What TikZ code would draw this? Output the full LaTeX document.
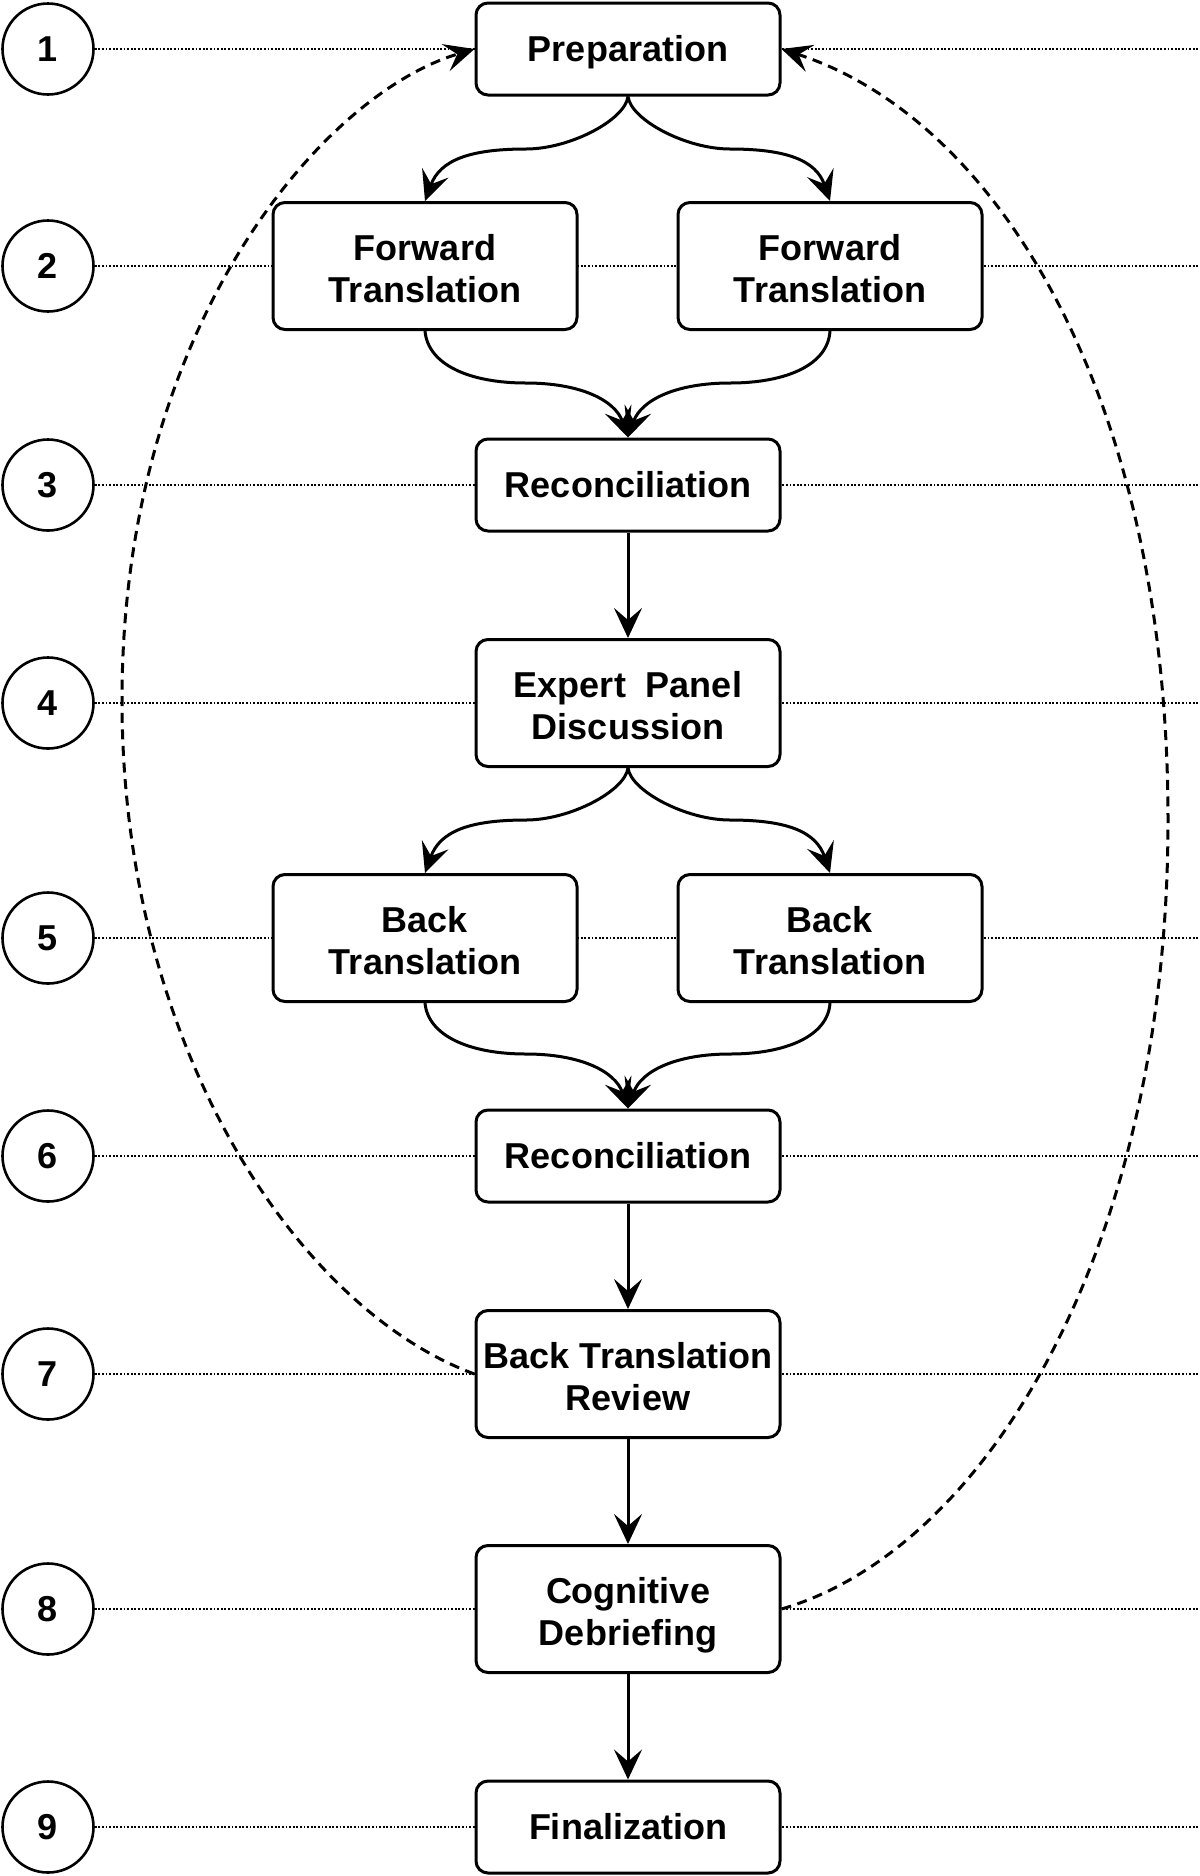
\documentclass[tikz,border=0pt]{standalone}
\usepackage{fontspec}
\setmainfont{Liberation Sans}
\usetikzlibrary{arrows.meta}
\newcommand{\linestrut}{\rule[-4.1pt]{0pt}{21.1pt}}
\newcommand{\topstrut}{\rule{0pt}{19.2pt}}
\newcommand{\botstrut}{\rule[-4.1pt]{0pt}{4.1pt}}
\newcommand{\twolines}[2]{\topstrut#1\\#2\botstrut}
\begin{document}
\begin{tikzpicture}[x=0.5pt,y=-0.5pt,
  stagebox/.style={draw, line width=1.5pt, rounded corners=6pt, fill=white, minimum width=152pt, align=center, inner sep=0pt, font=\bfseries\fontsize{18pt}{21pt}\selectfont},
  onebox/.style={stagebox, minimum height=46pt},
  twobox/.style={stagebox, minimum height=63.5pt},
  numcircle/.style={draw, circle, line width=1.3pt, fill=white, minimum size=45.5pt, inner sep=0pt, font=\bfseries\fontsize{18pt}{21pt}\selectfont},
  guideline/.style={line width=0.7pt, dash pattern=on 0.9pt off 0.9pt},
  flowarrow/.style={line width=1.5pt, -{Stealth[length=15pt,width=14pt,inset=6pt]}},
  backarrow/.style={flowarrow, dash pattern=on 5pt off 3.3pt},
]
\useasboundingbox (0,0) rectangle (1200,1876);

% step numbers
\foreach \n/\y in {1/49,2/266,3/485,4/703,5/938,6/1156,7/1374,8/1609,9/1827}{
  \node[numcircle] (c\n) at (48,\y) {\n};
  \coordinate (r\n) at (1200,\y);
  \draw[guideline] (c\n.east) -- (r\n);
}

% stage boxes
\node[onebox] (prep) at (628,49) {\linestrut Preparation};
\node[twobox] (fl) at (425,266) {\twolines{Forward}{Translation}};
\node[twobox] (fr) at (830,266) {\twolines{Forward}{Translation}};
\node[onebox] (rec1) at (628,485) {\linestrut Reconciliation};
\node[twobox] (exp) at (628,703) {\twolines{Expert~~Panel}{Discussion}};
\node[twobox] (bl) at (425,938) {\twolines{Back}{Translation}};
\node[twobox] (br) at (830,938) {\twolines{Back}{Translation}};
\node[onebox] (rec2) at (628,1156) {\linestrut Reconciliation};
\node[twobox] (btr) at (628,1374) {\twolines{Back Translation}{Review}};
\node[twobox] (cog) at (628,1609) {\twolines{Cognitive}{Debriefing}};
\node[onebox] (fin) at (628,1827) {\linestrut Finalization};

% forks and merges
\draw[flowarrow] (prep.south) .. controls (625,120) and (570,149) .. (526,149)
  .. controls (470,149) and (440,160) .. (fl.north);
\draw[flowarrow] (prep.south) .. controls (631,120) and (686,149) .. (730,149)
  .. controls (786,149) and (816,160) .. (fr.north);
\draw[flowarrow] (fl.south) .. controls (428,365) and (470,383) .. (526,383)
  .. controls (580,383) and (615,400) .. (rec1.north);
\draw[flowarrow] (fr.south) .. controls (828,365) and (786,383) .. (730,383)
  .. controls (676,383) and (641,400) .. (rec1.north);
\draw[flowarrow] (rec1.south) -- (exp.north);
\draw[flowarrow] (exp.south) .. controls (625,791) and (570,820) .. (526,820)
  .. controls (470,820) and (440,831) .. (bl.north);
\draw[flowarrow] (exp.south) .. controls (631,791) and (686,820) .. (730,820)
  .. controls (786,820) and (816,831) .. (br.north);
\draw[flowarrow] (bl.south) .. controls (428,1036) and (470,1054) .. (526,1054)
  .. controls (580,1054) and (615,1071) .. (rec2.north);
\draw[flowarrow] (br.south) .. controls (828,1036) and (786,1054) .. (730,1054)
  .. controls (676,1054) and (641,1071) .. (rec2.north);
\draw[flowarrow] (rec2.south) -- (btr.north);
\draw[flowarrow] (btr.south) -- (cog.north);
\draw[flowarrow] (cog.south) -- (fin.north);

% feedback loops
\draw[backarrow] (btr.west) .. controls (300,1310) and (122,1050) .. (122,700)
  .. controls (122,330) and (320,95) .. (prep.west);
\draw[backarrow] (cog.east) .. controls (985,1550) and (1168,1250) .. (1168,820)
  .. controls (1168,400) and (1000,120) .. (prep.east);
\end{tikzpicture}
\end{document}
